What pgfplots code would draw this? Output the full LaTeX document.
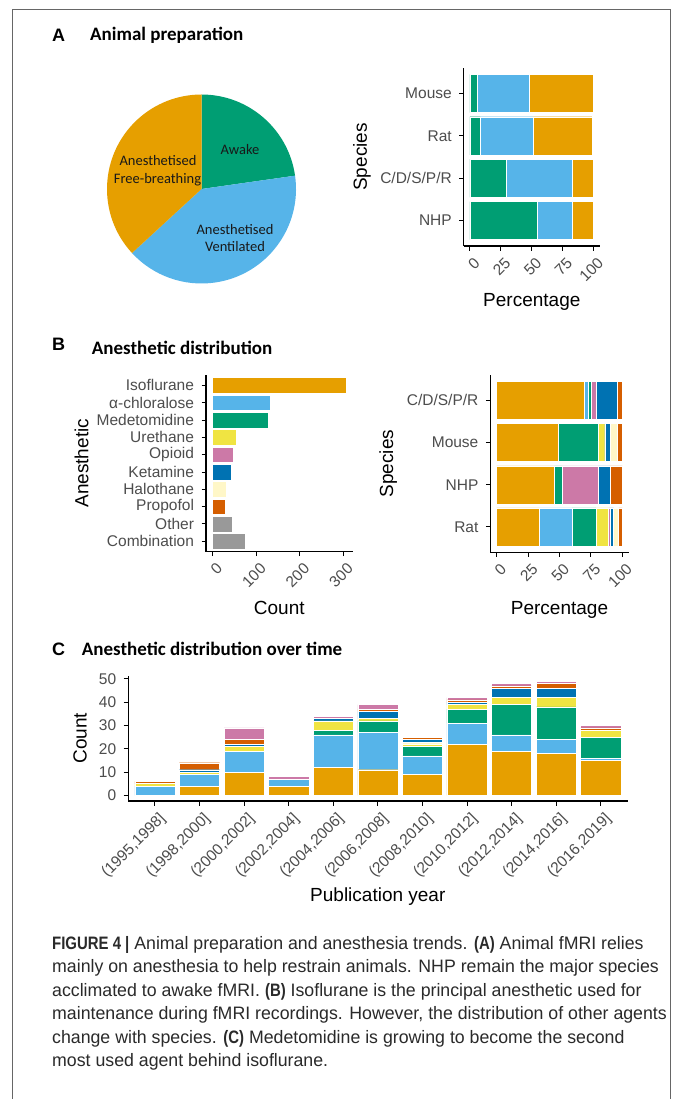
\documentclass[border=0pt]{standalone}
\usepackage{pgfplots}
\pgfplotsset{compat=1.18}
\usepackage{fontspec}
\setmainfont{Liberation Sans}
\newfontfamily\calibri{Carlito}
\newfontfamily\capfont[FakeStretch=0.985, BoldFeatures={FakeStretch=0.83}]{Liberation Sans}
\definecolor{okorange}{HTML}{E69F00}
\definecolor{okblue}{HTML}{56B4E9}
\definecolor{okgreen}{HTML}{009E73}
\definecolor{okyellow}{HTML}{F0E442}
\definecolor{okdblue}{HTML}{0072B2}
\definecolor{okred}{HTML}{D55E00}
\definecolor{okpink}{HTML}{CC79A7}
\definecolor{okpale}{HTML}{FFF7C8}
\definecolor{okgray}{HTML}{999999}
\definecolor{tickgray}{HTML}{4D4D4D}
\definecolor{framegray}{HTML}{666666}
\definecolor{captext}{HTML}{2A2A2A}
\pgfplotsset{
  gg/.style={
    scale only axis,
    axis x line*=bottom, axis y line*=left,
    axis line style={line width=1.3pt,black,-},
    tick align=outside,
    major tick length=4.5pt,
    tick style={black, line width=1pt},
    ticklabel style={font=\fontsize{15.5}{18}\selectfont, text=tickgray},
    yticklabel shift=4pt,
    xticklabel shift=1pt,
    xticklabel style={xshift=3pt, rotate=45, anchor=north east},
    /pgf/number format/assume math mode=true,
    every axis plot/.append style={draw=white, line width=0.4pt},
  },
}
\newcommand{\ttl}{\fontsize{19}{22}\selectfont}
\begin{document}
\begin{tikzpicture}[x=1pt,y=1pt]
\path[use as bounding box, fill=white] (0,0) rectangle (672,-1099);
\draw[framegray, line width=1pt] (12,-1105) -- (12,-10) -- (670,-10) -- (670,-1105);

% ---------- Panel A ----------
\node[anchor=base west, inner sep=0] at (52,-42) {\fontsize{18}{20}\selectfont\bfseries A};
\node[anchor=base west, inner sep=0] at (90,-41) {\calibri\bfseries\fontsize{19}{21}\selectfont Animal preparation};

\def\pA{22.75}\def\pV{40.4}\def\pF{36.85}
\begin{axis}[hide axis, scale only axis, width=200pt, height=200pt,
  xmin=-100, xmax=100, ymin=-100, ymax=100,
  at={(201.5pt,-189pt)}, anchor=center, clip=false]
  \fill[okgreen] (axis cs:0,0) -- ++(90:94.5pt) arc[start angle=90, delta angle={-\pA*3.6}, radius=94.5pt] -- cycle;
  \fill[okblue] (axis cs:0,0) -- ++({90-\pA*3.6}:94.5pt) arc[start angle={90-\pA*3.6}, delta angle={-\pV*3.6}, radius=94.5pt] -- cycle;
  \fill[okorange] (axis cs:0,0) -- ++({90-(\pA+\pV)*3.6}:94.5pt) arc[start angle={90-(\pA+\pV)*3.6}, delta angle={-\pF*3.6}, radius=94.5pt] -- cycle;
\end{axis}
\begin{scope}[every node/.style={anchor=base, inner sep=0, font=\calibri\fontsize{14.5}{16}\selectfont, text=black!90}]
\node at (240,-155) {Awake};
\node at (158,-165.5) {Anesthetised};
\node at (157.5,-183.5) {Free-breathing};
\node at (235,-234) {Anesthetised};
\node at (235,-251.5) {Ventilated};
\end{scope}

\begin{axis}[gg, at={(463.8pt,-246pt)}, anchor=south west, width=136pt, height=178pt,
  xmin=-5, xmax=105, ymin=-0.6, ymax=3.6, xbar stacked, bar width=0.9,
  xtick={0,25,50,75,100}, ytick={0,1,2,3}, yticklabels={NHP,C/D/S/P/R,Rat,Mouse}]
  \addplot[fill=okgreen] coordinates {(54.6,0) (29,1) (8.5,2) (6.1,3)};
  \addplot[fill=okblue] coordinates {(28.3,0) (53.6,1) (42.7,2) (41.7,3)};
  \addplot[fill=okorange] coordinates {(17.1,0) (17.4,1) (47.3,2) (52.2,3)};
\end{axis}
\node[rotate=90, anchor=center, inner sep=0] at (362,-157) {\ttl Species};
\node[anchor=base, inner sep=0] at (531.8,-306) {\ttl Percentage};

% ---------- Panel B ----------
\node[anchor=base west, inner sep=0] at (52,-350.7) {\fontsize{18}{20}\selectfont\bfseries B};
\node[anchor=base west, inner sep=0] at (91.7,-354) {\calibri\bfseries\fontsize{19}{21}\selectfont Anesthetic distribution};

\begin{axis}[gg, at={(206pt,-551.7pt)}, anchor=south west, width=146.6pt, height=176.7pt,
  xmin=-15.3, xmax=321.3, ymin=-0.6, ymax=9.6, xbar, bar shift=0pt, bar width=0.9,
  xtick={0,100,200,300}, ytick={0,...,9},
  yticklabels={Combination,Other,Propofol,Halothane,Ketamine,Opioid,Urethane,Medetomidine,α-chloralose,Isoflurane}]
  \addplot[fill=okorange] coordinates {(306,9)};
  \addplot[fill=okblue] coordinates {(131,8)};
  \addplot[fill=okgreen] coordinates {(127,7)};
  \addplot[fill=okyellow] coordinates {(55,6)};
  \addplot[fill=okpink] coordinates {(47,5)};
  \addplot[fill=okdblue] coordinates {(42,4)};
  \addplot[fill=okpale] coordinates {(32,3)};
  \addplot[fill=okred] coordinates {(28,2)};
  \addplot[fill=okgray] coordinates {(46,1)};
  \addplot[fill=okgray] coordinates {(74,0)};
\end{axis}
\node[rotate=90, anchor=center, inner sep=0] at (81.7,-463.3) {\ttl Anesthetic};
\node[anchor=base, inner sep=0] at (279.3,-614) {\ttl Count};

% order: Iso, a-chl, Med, Ure, Opi, Ket, Hal, Prop ; y: Rat=0, NHP=1, Mouse=2, C/D/S/P/R=3
\begin{axis}[gg, at={(490.4pt,-552.3pt)}, anchor=south west, width=138.2pt, height=177.3pt,
  xmin=-5, xmax=105, ymin=-0.6, ymax=3.6, xbar stacked, bar width=0.9,
  xtick={0,25,50,75,100}, ytick={0,1,2,3}, yticklabels={Rat,NHP,Mouse,C/D/S/P/R}]
  \addplot[fill=okorange] coordinates {(34,0) (46,1) (49,2) (70,3)};
  \addplot[fill=okblue]   coordinates {(26,0) (0,1) (0,2) (3,3)};
  \addplot[fill=okgreen]  coordinates {(19,0) (6,1) (32,2) (2,3)};
  \addplot[fill=okyellow] coordinates {(10,0) (0,1) (5,2) (0,3)};
  \addplot[fill=okpink]   coordinates {(1,0) (29,1) (0,2) (4,3)};
  \addplot[fill=okdblue]  coordinates {(3,0) (9,1) (4,2) (17,3)};
  \addplot[fill=okpale]   coordinates {(4,0) (0,1) (6,2) (0,3)};
  \addplot[fill=okred]    coordinates {(3,0) (10,1) (4,2) (4,3)};
\end{axis}
\node[rotate=90, anchor=center, inner sep=0] at (388.3,-463.5) {\ttl Species};
\node[anchor=base, inner sep=0] at (559.5,-614) {\ttl Percentage};

% ---------- Panel C ----------
\node[anchor=base west, inner sep=0] at (52,-655) {\fontsize{18}{20}\selectfont\bfseries C};
\node[anchor=base west, inner sep=0] at (81.7,-655) {\calibri\bfseries\fontsize{19}{21}\selectfont Anesthetic distribution over time};

\begin{axis}[gg, at={(128.2pt,-801pt)}, anchor=south west, width=499.3pt, height=125.4pt,
  xmin=-0.6, xmax=10.6, ymin=-2.45, ymax=51.45, ybar stacked, bar width=0.9,
  xtick={0,...,10}, ytick={0,10,...,50},
  xticklabels={{(1995,1998]},{(1998,2000]},{(2000,2002]},{(2002,2004]},{(2004,2006]},{(2006,2008]},{(2008,2010]},{(2010,2012]},{(2012,2014]},{(2014,2016]},{(2016,2019]}}]
  % Iso
  \addplot[fill=okorange] coordinates {(0,0) (1,4) (2,10) (3,4) (4,12) (5,11) (6,9) (7,22) (8,19) (9,18) (10,15)};
  % a-chloralose
  \addplot[fill=okblue] coordinates {(0,4) (1,5) (2,9) (3,3) (4,14) (5,16) (6,8) (7,9) (8,7) (9,6) (10,1)};
  % Medetomidine
  \addplot[fill=okgreen] coordinates {(0,0) (1,0) (2,0) (3,0) (4,2) (5,5) (6,4) (7,6) (8,13) (9,14) (10,9)};
  % Urethane
  \addplot[fill=okyellow] coordinates {(0,1) (1,1) (2,2) (3,0) (4,4) (5,1) (6,1) (7,2) (8,3) (9,4) (10,3)};
  % Halothane
  \addplot[fill=okpale] coordinates {(0,0) (1,0) (2,0) (3,0) (4,0) (5,0) (6,1) (7,0) (8,0) (9,0) (10,0)};
  % Ketamine
  \addplot[fill=okdblue] coordinates {(0,0) (1,1) (2,1) (3,0) (4,1) (5,3) (6,1) (7,1) (8,4) (9,4) (10,0)};
  % Propofol
  \addplot[fill=okred] coordinates {(0,1) (1,3) (2,2) (3,0) (4,0) (5,1) (6,1) (7,1) (8,1) (9,2) (10,1)};
  % Opioid
  \addplot[fill=okpink] coordinates {(0,0) (1,0) (2,5) (3,1) (4,1) (5,2) (6,0) (7,1) (8,1) (9,1) (10,1)};
\end{axis}
\node[rotate=90, anchor=center, inner sep=0] at (80,-738.3) {\ttl Count};
\node[anchor=base, inner sep=0] at (377.8,-901) {\ttl Publication year};

% ---------- Caption ----------
\begin{scope}[every node/.style={anchor=base west, inner sep=0, text=captext, font=\capfont\fontsize{18}{21}\selectfont}]
\node at (52,-949) {\textbf{FIGURE 4 |} Animal preparation and anesthesia trends. \textbf{(A)} Animal fMRI relies};
\node at (52,-972.5) {mainly on anesthesia to help restrain animals. NHP remain the major species};
\node at (52,-996) {acclimated to awake fMRI. \textbf{(B)} Isoflurane is the principal anesthetic used for};
\node at (52,-1019.5) {maintenance during fMRI recordings. However, the distribution of other agents};
\node at (52,-1043) {change with species. \textbf{(C)} Medetomidine is growing to become the second};
\node at (52,-1066.5) {most used agent behind isoflurane.};
\end{scope}
\end{tikzpicture}
\end{document}
